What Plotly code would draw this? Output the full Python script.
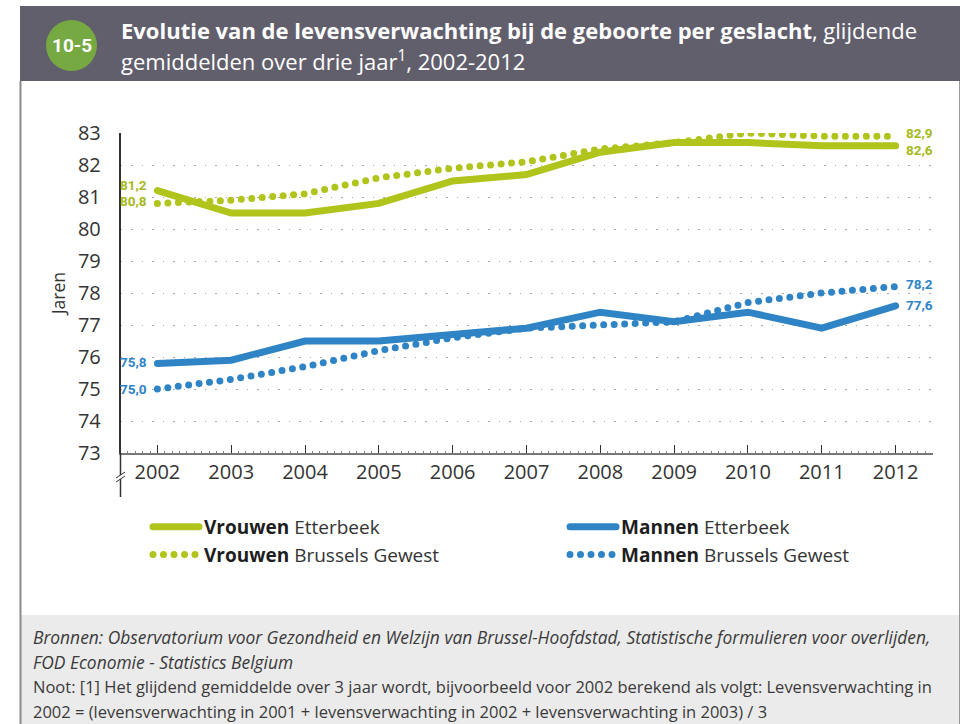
import plotly.graph_objects as go

# ---- data -------------------------------------------------------------
years = [2002, 2003, 2004, 2005, 2006, 2007, 2008, 2009, 2010, 2011, 2012]

vrouwen_etterbeek = [81.2, 80.5, 80.5, 80.8, 81.5, 81.7, 82.4, 82.7, 82.7, 82.6, 82.6]
vrouwen_brussel   = [80.8, 80.9, 81.1, 81.6, 81.9, 82.1, 82.5, 82.7, 83.0, 82.9, 82.9]
mannen_etterbeek  = [75.8, 75.9, 76.5, 76.5, 76.7, 76.9, 77.4, 77.1, 77.4, 76.9, 77.6]
mannen_brussel    = [75.0, 75.3, 75.7, 76.2, 76.6, 76.9, 77.0, 77.1, 77.7, 78.0, 78.2]

y_ticks = [73, 74, 75, 76, 77, 78, 79, 80, 81, 82, 83]

# ---- style ------------------------------------------------------------
GREEN = "#b0c41c"
GREEN_TXT = "#a6b91a"
BLUE = "#2f84c6"
BAND = "#625f6d"
FOOT = "#ebebeb"
BADGE = "#76a941"
FONT = "Open Sans"
NARROW = "Roboto"
DOTS = "0px,10.5px"

W, H = 960, 724


def px(x):
    return x / W


def py(y):
    return 1 - y / H


def fmt(v):
    return f"{v:.1f}".replace(".", ",")


def legend_name(sex, region):
    return f"<b><span style='color:#1e1e1e'>{sex}</span></b> {region}"


# (name, values, colour, dash, legend, rank)
series = [
    (legend_name("Vrouwen", "Etterbeek"), vrouwen_etterbeek, GREEN, "solid", "legend", 1),
    (legend_name("Vrouwen", "Brussels Gewest"), vrouwen_brussel, GREEN, DOTS, "legend", 2),
    (legend_name("Mannen", "Etterbeek"), mannen_etterbeek, BLUE, "solid", "legend2", 1),
    (legend_name("Mannen", "Brussels Gewest"), mannen_brussel, BLUE, DOTS, "legend2", 2),
]

fig = go.Figure()
# dotted series first so the solid lines sit on top
for i, (name, vals, col, dash, leg, rank) in enumerate(sorted(series, key=lambda s: s[3] == "solid")):
    fig.add_trace(go.Scatter(
        x=years, y=vals, name=name, mode="lines", legend=leg, legendrank=rank,
        legendgroup=f"g{i}",
        line=dict(color=col, width=7, dash=dash),
        hoverinfo="skip",
    ))

# ---- value labels at both ends -----------------------------------------
# (values, colour, vertical nudge left, vertical nudge right)
end_labels = [
    (vrouwen_etterbeek, GREEN_TXT, 6, -4.5),
    (vrouwen_brussel, GREEN_TXT, 2, 3),
    (mannen_etterbeek, BLUE, 1, 1),
    (mannen_brussel, BLUE, 0, 3),
]
label_font = dict(family=NARROW, size=13.5, weight="bold")
annotations = []
for vals, col, ls, rs in end_labels:
    annotations.append(dict(
        x=years[0], y=vals[0], xref="x", yref="y", text=fmt(vals[0]),
        xanchor="right", yanchor="middle", xshift=-8, yshift=ls,
        showarrow=False, font=dict(label_font, color=col),
    ))
    annotations.append(dict(
        x=years[-1], y=vals[-1], xref="x", yref="y", text=fmt(vals[-1]),
        xanchor="left", yanchor="middle", xshift=8, yshift=rs,
        showarrow=False, font=dict(label_font, color=col),
    ))

# ---- header ------------------------------------------------------------
annotations += [
    dict(x=px(71.5), y=py(45.5), xref="paper", yref="paper", text="<b>10-5</b>",
         showarrow=False, xanchor="center", yanchor="middle",
         font=dict(family=NARROW, size=19, color="white")),
    dict(x=px(119), y=py(29.5), xref="paper", yref="paper",
         text="<b>Evolutie van de levensverwachting bij de geboorte per geslacht</b>, glijdende",
         showarrow=False, xanchor="left", yanchor="middle",
         font=dict(family=FONT, size=22, color="white")),
    dict(x=px(119), y=py(61), xref="paper", yref="paper",
         text="gemiddelden over drie jaar<sup>1</sup>, 2002-2012",
         showarrow=False, xanchor="left", yanchor="middle",
         font=dict(family=FONT, size=22, color="white")),
]

# ---- footer ------------------------------------------------------------
foot_lines = [
    ("Bronnen: Observatorium voor Gezondheid en Welzijn van Brussel-Hoofdstad, Statistische formulieren voor overlijden,", True),
    ("FOD Economie - Statistics Belgium", True),
    ("Noot: [1] Het glijdend gemiddelde over 3 jaar wordt, bijvoorbeeld voor 2002 berekend als volgt: Levensverwachting in", False),
    ("2002 = (levensverwachting in 2001 + levensverwachting in 2002 + levensverwachting in 2003) / 3", False),
]
for i, (t, italic) in enumerate(foot_lines):
    annotations.append(dict(
        x=px(31), y=py(637 + i * 24.7), xref="paper", yref="paper",
        text=f"<i>{t}</i>" if italic else t,
        showarrow=False, xanchor="left", yanchor="middle",
        font=dict(family=FONT, size=17.4 if italic else 16.5, color="#3a3a3a"),
    ))

# ---- frame, bands and axis break ---------------------------------------
shapes = [
    dict(type="rect", xref="paper", yref="paper", x0=px(20), x1=1, y0=py(81), y1=py(6),
         fillcolor=BAND, line=dict(width=0), layer="below"),
    dict(type="rect", xref="paper", yref="paper", x0=px(21), x1=px(959), y0=0, y1=py(615),
         fillcolor=FOOT, line=dict(width=0), layer="below"),
    dict(type="line", xref="paper", yref="paper", x0=px(20.5), x1=px(20.5), y0=0, y1=py(81),
         line=dict(color="#8a8a8a", width=2)),
    dict(type="line", xref="paper", yref="paper", x0=px(959.5), x1=px(959.5), y0=0, y1=py(81),
         line=dict(color="#9a9a9a", width=1)),
    dict(type="circle", xref="paper", yref="paper", x0=px(46), x1=px(97), y0=py(71), y1=py(20),
         fillcolor=BADGE, line=dict(width=0)),
    # y axis runs on below the x axis, with a break mark
    dict(type="line", xref="paper", yref="paper", x0=px(120.5), x1=px(120.5), y0=py(453), y1=py(497),
         line=dict(color="#333333", width=1.5)),
    dict(type="rect", xref="paper", yref="paper", x0=px(117), x1=px(124), y0=py(479), y1=py(475),
         fillcolor="white", line=dict(width=0)),
    dict(type="line", xref="paper", yref="paper", x0=px(116), x1=px(125), y0=py(478), y1=py(472),
         line=dict(color="#333333", width=1)),
    dict(type="line", xref="paper", yref="paper", x0=px(116), x1=px(125), y0=py(482), y1=py(476),
         line=dict(color="#333333", width=1)),
]

legend_common = dict(
    orientation="v", xanchor="left", yanchor="top", itemwidth=46,
    font=dict(family=FONT, size=19, color="#333333"),
    bgcolor="rgba(0,0,0,0)", traceorder="normal", tracegroupgap=3,
)

fig.update_layout(
    width=W, height=H,
    margin=dict(l=0, r=0, t=0, b=0, autoexpand=False),
    paper_bgcolor="white", plot_bgcolor="white",
    font=dict(family=FONT, color="#333333"),
    showlegend=True,
    legend=dict(legend_common, x=px(148), y=py(508)),
    legend2=dict(legend_common, x=px(565), y=py(508)),
    xaxis=dict(
        domain=[px(120.5), px(932.5)], range=[2001.5, 2012.5],
        tickmode="array", tickvals=years, ticktext=[str(y) for y in years],
        ticks="inside", ticklen=8, tickwidth=1.2, tickcolor="#333333",
        minor=dict(dtick=0.1, tick0=2002, ticks="inside", ticklen=2, tickcolor="#888888", tickwidth=1),
        showline=True, linecolor="#777777", linewidth=1.5,
        showgrid=False, zeroline=False,
        tickfont=dict(family=FONT, size=20, color="#333333"),
        ticklabelstandoff=0,
    ),
    yaxis=dict(
        domain=[py(453), py(133)], range=[73, 83],
        tickmode="array", tickvals=y_ticks, ticktext=[str(v) for v in y_ticks],
        ticks="", showline=True, linecolor="#333333", linewidth=1.5,
        showgrid=True, gridcolor="#a8a8a8", gridwidth=1, griddash="1.5px,9px",
        zeroline=False,
        tickfont=dict(family=FONT, size=20, color="#333333"),
        ticklabelstandoff=14,
        title=dict(text="Jaren", font=dict(family=FONT, size=17.5, color="#333333"), standoff=8),
    ),
    shapes=shapes,
    annotations=annotations,
)

round_caps = (
    "var s=document.createElement('style');"
    "s.textContent='.scatterlayer path.js-line, .legendlines path{stroke-linecap:round !important;}';"
    "document.head.appendChild(s);"
)
fig.write_html("out.html", post_script=round_caps)
